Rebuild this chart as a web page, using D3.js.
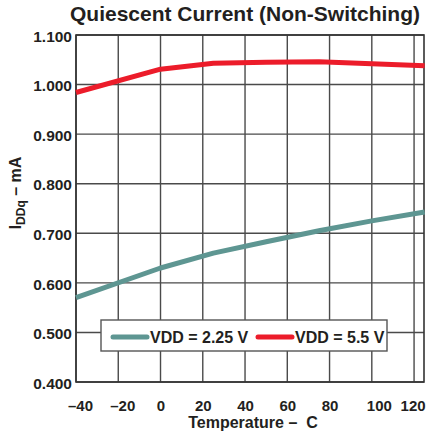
<!DOCTYPE html>
<html>
<head>
<meta charset="utf-8">
<script src="https://cdn.jsdelivr.net/npm/d3@7"></script>
<style>
  body { margin: 0; background: #fff; }
  text { font-family: "Liberation Sans", Arial, sans-serif; font-weight: bold; fill: #231f20; }
</style>
</head>
<body>
<div id="chart"></div>
<script>
// data
var temps = [-40, 0, 25, 50, 75, 100, 125];
var vdd225 = [0.570, 0.630, 0.660, 0.683, 0.705, 0.725, 0.743];
var vdd55 = [0.984, 1.031, 1.043, 1.045, 1.046, 1.042, 1.038];
var xTicks = [-40, -20, 0, 20, 40, 60, 80, 100, 120];
var yTicks = [0.4, 0.5, 0.6, 0.7, 0.8, 0.9, 1.0, 1.1];
var seriesNames = ["VDD = 2.25 V", "VDD = 5.5 V"];
var seriesColors = ["#5e9692", "#ec1c2a"];

var W = 426, H = 433;
var margin = {top: 35, right: 2, bottom: 51, left: 76},
    width = W - margin.left - margin.right,
    height = H - margin.top - margin.bottom;

var x = d3.scaleLinear().domain([-40, 124.7]).range([0, width]);
var y = d3.scaleLinear().domain([0.4, 1.1]).range([height, 0]);

var svg = d3.select("#chart").append("svg")
    .attr("width", W)
    .attr("height", H);

// title
svg.append("text")
    .attr("x", 245).attr("y", 21)
    .attr("text-anchor", "middle")
    .style("font-size", "21px")
    .text("Quiescent Current (Non-Switching)");

var g = svg.append("g")
    .attr("transform", "translate(" + margin.left + "," + margin.top + ")");

// grid
g.selectAll(".vgrid")
    .data(xTicks)
  .enter().append("line")
    .attr("x1", function(d) { return x(d); })
    .attr("x2", function(d) { return x(d); })
    .attr("y1", 0).attr("y2", height)
    .style("stroke", "#4a4a4a")
    .style("stroke-width", 1.4);

g.selectAll(".hgrid")
    .data(yTicks)
  .enter().append("line")
    .attr("x1", 0).attr("x2", width)
    .attr("y1", function(d) { return y(d); })
    .attr("y2", function(d) { return y(d); })
    .style("stroke", "#4a4a4a")
    .style("stroke-width", 1.4);

// frame
g.append("rect")
    .attr("width", width).attr("height", height)
    .style("fill", "none")
    .style("stroke", "#333")
    .style("stroke-width", 1.6);

// axes (labels only)
var xAxis = g.append("g")
    .attr("transform", "translate(0," + height + ")")
    .call(d3.axisBottom(x).tickValues(xTicks).tickSize(0).tickPadding(18)
      .tickFormat(function(d) { return d < 0 ? "\u2013" + Math.abs(d) : d; }));
var yAxis = g.append("g")
    .call(d3.axisLeft(y).tickValues(yTicks).tickSize(0).tickPadding(4)
      .tickFormat(d3.format(".3f")));
[xAxis, yAxis].forEach(function(a) {
  a.select(".domain").remove();
  a.selectAll("text")
    .style("font-family", "'Liberation Sans', Arial, sans-serif")
    .style("fill", "#231f20");
});
yAxis.selectAll("text").style("font-size", "15.5px").attr("dy", "0.4em");
// x labels sit a little off their gridlines in the original
xAxis.selectAll("text")
    .style("font-size", "15px")
    .attr("dx", function(d) { return d < 0 ? 4 : d === 100 ? 7 : d === 120 ? -1.5 : 0; });

// lines
var line = d3.line()
    .x(function(d) { return x(d[0]); })
    .y(function(d) { return y(d[1]); });

[vdd225, vdd55].forEach(function(vals, i) {
  g.append("path")
      .datum(temps.map(function(t, j) { return [t, vals[j]]; }))
      .attr("d", line)
      .style("fill", "none")
      .style("stroke", seriesColors[i])
      .style("stroke-width", 5)
      .style("stroke-linejoin", "round");
});

// legend
var legend = svg.append("g").attr("transform", "translate(101,320)");
legend.append("rect")
    .attr("width", 286).attr("height", 31)
    .style("fill", "#fff")
    .style("stroke", "#555")
    .style("stroke-width", 1.4);
var legX = [12, 157];
seriesNames.forEach(function(n, i) {
  legend.append("line")
      .attr("x1", legX[i]).attr("x2", legX[i] + 34)
      .attr("y1", 17).attr("y2", 17)
      .style("stroke", seriesColors[i])
      .style("stroke-width", 5)
      .style("stroke-linecap", "round");
  legend.append("text")
      .attr("x", legX[i] + 37).attr("y", 22.5)
      .style("font-size", "16px")
      .text(n);
});

// axis titles
svg.append("text")
    .attr("x", 253).attr("y", 428)
    .attr("text-anchor", "middle")
    .style("font-size", "16px")
    .style("white-space", "pre")
    .text("Temperature \u2013  C");

var yl = svg.append("text")
    .attr("transform", "translate(21,193) rotate(-90)")
    .attr("text-anchor", "middle")
    .style("font-size", "16px");
yl.append("tspan").text("I");
yl.append("tspan").attr("dy", 4).style("font-size", "12px").text("DDq");
yl.append("tspan").attr("dy", -4).text(" \u2013 mA");
</script>
</body>
</html>
